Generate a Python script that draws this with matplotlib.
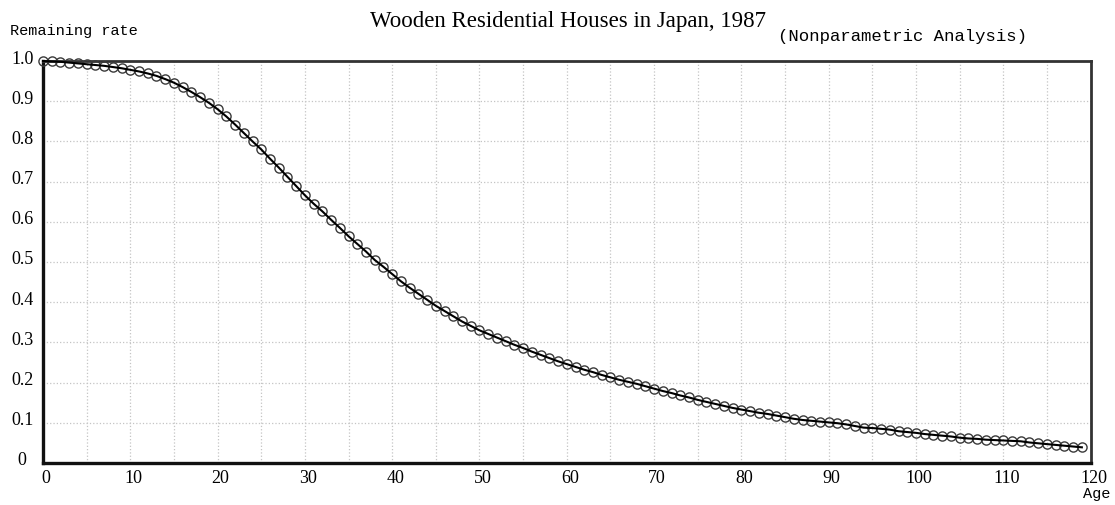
import matplotlib
matplotlib.use('Agg')
import matplotlib.pyplot as plt
import numpy as np
from matplotlib.transforms import ScaledTranslation

# remaining rate, one value per year of age 0..119
ages = list(range(120))
rate = [
    1.000, 0.999, 0.998, 0.996, 0.994, 0.992, 0.990, 0.988, 0.985, 0.982,
    0.978, 0.974, 0.969, 0.963, 0.955, 0.946, 0.935, 0.923, 0.910, 0.896,
    0.880, 0.862, 0.842, 0.821, 0.800, 0.780, 0.757, 0.735, 0.712, 0.689,
    0.666, 0.645, 0.626, 0.605, 0.585, 0.564, 0.545, 0.526, 0.505, 0.488,
    0.470, 0.452, 0.436, 0.421, 0.406, 0.391, 0.378, 0.365, 0.352, 0.341,
    0.330, 0.321, 0.312, 0.303, 0.294, 0.286, 0.277, 0.269, 0.261, 0.253,
    0.246, 0.239, 0.232, 0.226, 0.219, 0.213, 0.207, 0.202, 0.197, 0.191,
    0.185, 0.179, 0.174, 0.168, 0.163, 0.157, 0.152, 0.147, 0.142, 0.137,
    0.133, 0.129, 0.125, 0.122, 0.118, 0.114, 0.110, 0.107, 0.105, 0.103,
    0.101, 0.099, 0.096, 0.092, 0.088, 0.087, 0.085, 0.083, 0.079, 0.077,
    0.075, 0.072, 0.070, 0.068, 0.066, 0.063, 0.061, 0.060, 0.058, 0.057,
    0.056, 0.055, 0.054, 0.051, 0.049, 0.047, 0.045, 0.043, 0.041, 0.039,
]
x_ticks = list(range(0, 121, 10))
y_ticks = [0, 0.1, 0.2, 0.3, 0.4, 0.5, 0.6, 0.7, 0.8, 0.9, 1.0]
y_labels = ['0', '0.1', '0.2', '0.3', '0.4', '0.5', '0.6', '0.7', '0.8', '0.9', '1.0']

W, H = 1115, 506
fig = plt.figure(figsize=(W / 100, H / 100), dpi=100)
ax = fig.add_axes([43 / W, 1 - 464 / H, (1090.6 - 43) / W, (464 - 62) / H])

serif = 'Liberation Serif'
mono = 'Liberation Mono'

ax.plot(ages, rate, linestyle='none', marker='o', ms=6.6, mfc='none',
        mec='#3a3a3a', mew=1.0, zorder=3, clip_on=False)
ax.plot(ages, rate, color='black', lw=1.5, zorder=4, clip_on=False)

ax.set_xlim(0, 120)
ax.set_ylim(0, 1.0)
ax.set_xticks(x_ticks)
ax.set_xticks(range(5, 120, 10), minor=True)
ax.set_yticks(y_ticks)
ax.set_xticklabels([str(t) for t in x_ticks], fontfamily=serif, fontsize=13)
ax.set_yticklabels(y_labels, fontfamily=serif, fontsize=13, ha='center')
ax.tick_params(axis='both', which='both', length=0)
ax.tick_params(axis='x', pad=4)
ax.tick_params(axis='y', pad=15)

for lab in ax.get_yticklabels():
    lab.set_transform(lab.get_transform() + ScaledTranslation(0, 0.05, fig.dpi_scale_trans))
for lab in ax.get_xticklabels():
    lab.set_transform(lab.get_transform() + ScaledTranslation(0.03, 0, fig.dpi_scale_trans))

ax.grid(True, which='both', color='#c4c4c4', linestyle=':', linewidth=0.9)
ax.set_axisbelow(True)

for side in ['left', 'bottom']:
    ax.spines[side].set_linewidth(2.4)
    ax.spines[side].set_color('#111111')
for side in ['top', 'right']:
    ax.spines[side].set_linewidth(2.0)
    ax.spines[side].set_color('#333333')

fig.text(370 / W, 1 - 21 / H, 'Wooden Residential Houses in Japan, 1987',
         fontfamily=serif, fontsize=16.5, ha='left', va='center')
fig.text(778 / W, 1 - 36 / H, '(Nonparametric Analysis)',
         fontfamily=mono, fontsize=12.5, ha='left', va='center')
fig.text(10 / W, 1 - 31 / H, 'Remaining rate',
         fontfamily=mono, fontsize=11, ha='left', va='center')
fig.text(1110 / W, 1 - 494 / H, 'Age',
         fontfamily=mono, fontsize=11, ha='right', va='center')

fig.savefig('out.png', dpi=100)
